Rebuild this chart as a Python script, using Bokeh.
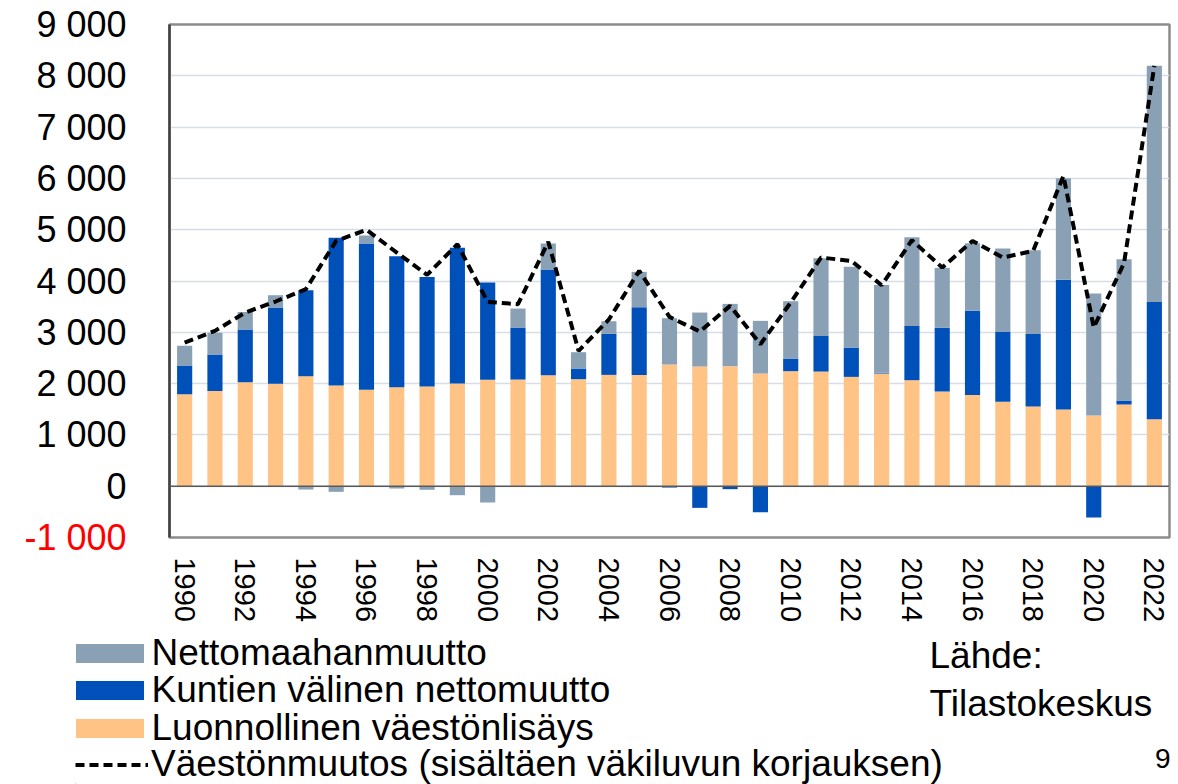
import numpy as np
from bokeh.plotting import figure
from bokeh.models import (ColumnDataSource, FixedTicker, Span, Label, Legend,
                          LegendItem, Range1d)
from bokeh.layouts import column, row
from bokeh.embed import file_html
from bokeh.resources import INLINE

# ---------------- data ----------------
years = list(range(1990, 2023))
natural = [1793, 1858, 2027, 1995, 2144, 1962, 1878, 1930, 1943, 2001, 2073,
           2079, 2164, 2086, 2170, 2170, 2372, 2333, 2339, 2196, 2242, 2235,
           2131, 2196, 2066, 1845, 1780, 1644, 1553, 1494, 1377, 1592, 1306]
internal = [559, 709, 1027, 1488, 1677, 2879, 2852, 2553, 2137, 2645, 1897,
            1014, 2060, 208, 799, 1319, -26, -422, -58, -507, 247, 695,
            572, 15, 1059, 1241, 1638, 1364, 1416, 2528, -611, 78, 2287]
immigration = [384, 422, 344, 240, -65, -110, 156, -45, -70, -175, -318,
               370, 506, 318, 247, 689, 903, 1052, 1215, 1027, 1117, 1514,
               1573, 1709, 1729, 1170, 1319, 1625, 1631, 1982, 2379, 2755, 4601]
total_change = [2800, 3028, 3385, 3600, 3840, 4782, 4997, 4555, 4120, 4717, 3593,
                3548, 4763, 2638, 3250, 4198, 3300, 3015, 3515, 2768, 3580, 4457,
                4392, 3918, 4795, 4262, 4782, 4457, 4587, 6049, 3093, 4350, 8194]
x_ticks = list(range(1990, 2023, 2))
y_ticks = list(range(-1000, 9001, 1000))
y_tick_labels = ["-1 000", "0", "1 000", "2 000", "3 000", "4 000", "5 000",
                 "6 000", "7 000", "8 000", "9 000"]

names = ["Nettomaahanmuutto", "Kuntien välinen nettomuutto",
         "Luonnollinen väestönlisäys",
         "Väestönmuutos (sisältäen väkiluvun korjauksen)"]
source_label = ["Lähde:", "Tilastokeskus"]
page_no = "9"

C_GRAY = "#8aa1b5"
C_BLUE = "#0050b9"
C_ORANGE = "#ffc386"
FONT = "Liberation Sans"

Y0, Y1 = -1000, 9000
FRAME_TOP, FRAME_H, FRAME_BOTTOM = 24, 513, 91
MAIN_H = FRAME_TOP + FRAME_H + FRAME_BOTTOM
LABEL_W = 140


def no_frame_align(fig):
    if "frame_align" in fig.properties():
        fig.frame_align = False


# ---------------- stacking (Excel style: positives up, negatives down) ----------------
pos = np.zeros(len(years))
neg = np.zeros(len(years))
stacks = {}
for key, vals in (("nat", natural), ("int", internal), ("imm", immigration)):
    v = np.array(vals, dtype=float)
    bottom = np.where(v >= 0, pos, neg)
    top = bottom + v
    pos = np.where(v >= 0, top, pos)
    neg = np.where(v < 0, top, neg)
    stacks[key] = (bottom, top)

src = ColumnDataSource(dict(
    x=years,
    nat_b=stacks["nat"][0], nat_t=stacks["nat"][1],
    int_b=stacks["int"][0], int_t=stacks["int"][1],
    imm_b=stacks["imm"][0], imm_t=stacks["imm"][1],
    total=total_change,
))

# ---------------- main chart ----------------
p = figure(width=1178 - LABEL_W, height=MAIN_H, title=None,
           x_range=Range1d(1989.5, 2022.5), y_range=Range1d(Y0, Y1),
           output_backend="svg", toolbar_location=None,
           min_border_left=169 - LABEL_W, min_border_right=9,
           min_border_top=FRAME_TOP, min_border_bottom=FRAME_BOTTOM)
no_frame_align(p)
p.background_fill_color = "white"
p.border_fill_color = "white"

p.vbar(x="x", bottom="nat_b", top="nat_t", width=0.5, source=src,
       fill_color=C_ORANGE, line_color=None)
p.vbar(x="x", bottom="int_b", top="int_t", width=0.5, source=src,
       fill_color=C_BLUE, line_color=None)
p.vbar(x="x", bottom="imm_b", top="imm_t", width=0.5, source=src,
       fill_color=C_GRAY, line_color=None)

p.add_layout(Span(location=0, dimension="width", line_color="#595959",
                  line_width=1.5))

p.line(x="x", y="total", source=src, line_color="black", line_width=4,
       line_dash="9 5")

p.outline_line_color = "#8c8c8c"
p.outline_line_width = 2.5

p.xgrid.visible = False
p.ygrid.ticker = FixedTicker(ticks=y_ticks)
p.ygrid.grid_line_color = "#d6dde6"
p.ygrid.grid_line_width = 1.5

xa = p.xaxis[0]
xa.ticker = FixedTicker(ticks=x_ticks)
xa.major_label_orientation = "vertical"
xa.major_label_text_font = FONT
xa.major_label_text_font_size = "29px"
xa.major_label_text_color = "black"
xa.major_label_standoff = 14
xa.major_tick_line_color = None
xa.minor_tick_line_color = None
xa.axis_line_color = None

ya = p.yaxis[0]
ya.ticker = FixedTicker(ticks=y_ticks)
ya.major_label_overrides = {t: "" for t in y_ticks}
ya.major_label_standoff = 0
ya.major_tick_line_color = None
ya.minor_tick_line_color = None
ya.axis_line_color = "#404040"
ya.axis_line_width = 2.5

# ---------------- y tick labels (own strip so that -1 000 can be red) ----------------
px_per_unit = FRAME_H / (Y1 - Y0)
yl = figure(width=LABEL_W, height=MAIN_H, title=None,
            x_range=Range1d(0, LABEL_W),
            y_range=Range1d(Y0 - FRAME_BOTTOM / px_per_unit,
                            Y1 + FRAME_TOP / px_per_unit),
            output_backend="svg", toolbar_location=None,
            x_axis_location=None, y_axis_location=None, min_border=0)
no_frame_align(yl)
yl.grid.visible = False
yl.outline_line_color = None
yl.border_fill_color = "white"
label_colors = ["#ff0000" if t < 0 else "black" for t in y_ticks]
yl_src = ColumnDataSource(dict(y=y_ticks, text=y_tick_labels, color=label_colors,
                               x=[LABEL_W - 14] * len(y_ticks)))
yl.text(x="x", y="y", text="text", text_color="color", source=yl_src,
        text_align="right", text_baseline="middle",
        text_font={"value": FONT}, text_font_size={"value": "36px"})

# ---------------- legend / footer ----------------
FOOT_H = 784 - MAIN_H
q = figure(width=1178, height=FOOT_H, title=None,
           x_range=Range1d(75, 1178), y_range=Range1d(0, FOOT_H - 3),
           output_backend="svg", toolbar_location=None,
           x_axis_location=None, y_axis_location=None,
           min_border_left=75, min_border_top=3, min_border_right=0,
           min_border_bottom=0)
no_frame_align(q)
q.grid.visible = False
q.outline_line_color = None
q.background_fill_color = "white"
q.border_fill_color = "white"

# legend-only renderers, placed outside the visible range
r_gray = q.vbar(x=[0], top=[1], width=1, fill_color=C_GRAY, line_color=None)
r_blue = q.vbar(x=[0], top=[1], width=1, fill_color=C_BLUE, line_color=None)
r_orng = q.vbar(x=[0], top=[1], width=1, fill_color=C_ORANGE, line_color=None)
r_line = q.line(x=[0, 1], y=[0, 0], line_color="black", line_width=4,
                line_dash="9 5")

# one legend block per row so the row pitch can follow the reference (~37.5 px)
ITEM_H = 46
row_centers = [131.5, 94.0, 56.5, 20.0]   # px from the bottom of the footer frame
# (swatch legend glyphs are drawn with a 10 % inset, hence the larger boxes)
row_style = [dict(gw=85, gh=24, dx=-8.5, st=0), dict(gw=85, gh=24, dx=-8.5, st=0),
             dict(gw=85, gh=24, dx=-8.5, st=0), dict(gw=73, gh=19, dx=0, st=3)]
for lab, rend, yc, st in zip(names, [r_gray, r_blue, r_orng, r_line],
                             row_centers, row_style):
    lg = Legend(items=[LegendItem(label=lab, renderers=[rend])],
                location=(st["dx"], yc - ITEM_H / 2))
    lg.label_text_font = FONT
    lg.label_text_font_size = "37px"
    lg.label_text_color = "black"
    lg.glyph_width = st["gw"]
    lg.glyph_height = st["gh"]
    lg.label_height = ITEM_H
    lg.spacing = 0
    lg.padding = 0
    lg.margin = 0
    lg.label_standoff = st["st"]
    lg.border_line_color = None
    lg.background_fill_alpha = 0
    q.add_layout(lg)

q.add_layout(Label(x=929, y=129, text=source_label[0], text_font=FONT,
                   text_font_size="37px", text_color="black",
                   text_baseline="alphabetic"))
q.add_layout(Label(x=929, y=81, text=source_label[1], text_font=FONT,
                   text_font_size="37px", text_color="black",
                   text_baseline="alphabetic"))
q.add_layout(Label(x=1170, y=26, text=page_no, text_font=FONT,
                   text_font_size="28px", text_color="black",
                   text_align="right", text_baseline="alphabetic"))

layout = column(row(yl, p, spacing=0), q, spacing=0)
open("out.html", "w").write(file_html(layout, INLINE))
